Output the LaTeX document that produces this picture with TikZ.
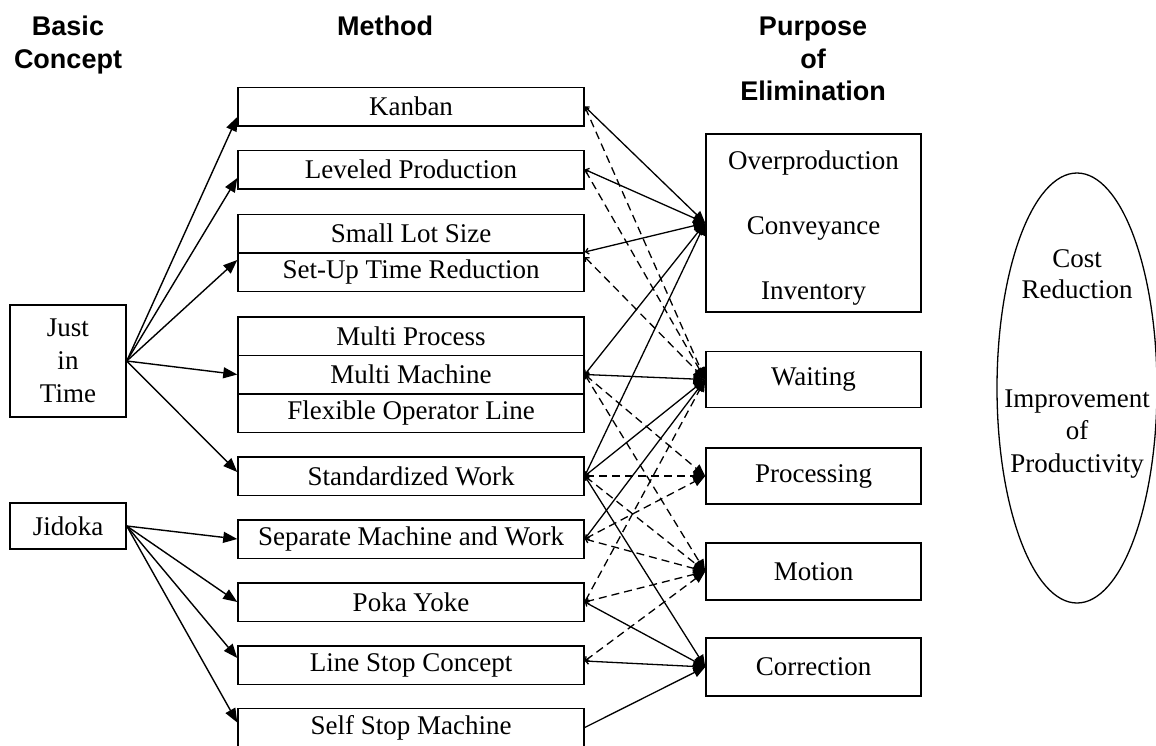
\documentclass[tikz,border=0pt]{standalone}
\usepackage{fontspec}
\setmainfont{Liberation Serif}
\newfontfamily\headfont{Liberation Sans}
\usetikzlibrary{arrows.meta,shapes.geometric}
\begin{document}
\begin{tikzpicture}[x=1pt,y=-1pt,
  box/.style={draw,line width=1.5pt,inner sep=0pt,font=\fontsize{27}{33}\selectfont},
  mbox/.style={box,minimum width=346pt,minimum height=38.5pt},
  pbox/.style={box,minimum width=215pt,minimum height=56pt},
  txt/.style={inner sep=0pt,anchor=base,font=\fontsize{27}{33}\selectfont},
  hdr/.style={inner sep=0pt,anchor=base,font=\headfont\bfseries\fontsize{27}{33}\selectfont},
  feed/.style={line width=1.4pt,-{Triangle[length=14pt,width=11pt]}},
  plain/.style={line width=1.3pt,-{Triangle[length=12pt,width=10pt]}},
  link/.style={plain,{Straight Barb[length=3pt,width=6pt]}-{Triangle[length=12pt,width=10pt]}},
  weak/.style={link,dash pattern=on 8pt off 5pt}]
\useasboundingbox (0,0) rectangle (1156,745);

% column headings
\node[hdr] (h1a) at (68,35) {Basic};
\node[hdr] (h1b) at (68,68) {Concept};
\node[hdr] (h2) at (385,35) {Method};
\node[hdr] (h3a) at (813,35) {Purpose};
\node[hdr] (h3b) at (813,68) {of};
\node[hdr] (h3c) at (813,100) {Elimination};

% basic concepts
\node[box,minimum width=116pt,minimum height=112pt,align=center] (jit) at (68,361) {Just\\in\\Time};
\node[box,minimum width=116pt,minimum height=46pt] (jidoka) at (68,526) {Jidoka};

% methods
\node[mbox] (kanban) at (411,106.5) {Kanban};
\node[mbox] (leveled) at (411,169.5) {Leveled Production};
\node[mbox] (smalllot) at (411,233.5) {Small Lot Size};
\node[mbox] (setup) at (411,272) {Set-Up Time Reduction};
\node[mbox] (mproc) at (411,336) {Multi Process};
\node[mbox] (mmach) at (411,374.5) {Multi Machine};
\node[mbox] (flex) at (411,413) {Flexible Operator Line};
\node[mbox] (stdwork) at (411,476) {Standardized Work};
\node[mbox] (sepwork) at (411,539) {Separate Machine and Work};
\node[mbox] (pokayoke) at (411,602) {Poka Yoke};
\node[mbox] (linestop) at (411,665) {Line Stop Concept};
\node[mbox] (selfstop) at (411,727.5) {Self Stop Machine};

% wastes to eliminate
\node[pbox,minimum height=178pt] (overp) at (813.5,223) {};
\node[txt] (w1) at (813.5,169) {Overproduction};
\node[txt] (w2) at (813.5,234) {Conveyance};
\node[txt] (w3) at (813.5,299) {Inventory};
\node[pbox] (waiting) at (813.5,379.5) {Waiting};
\node[pbox] (processing) at (813.5,476) {Processing};
\node[pbox,minimum height=57pt] (motion) at (813.5,571.5) {Motion};
\node[pbox,minimum height=58pt] (correction) at (813.5,667) {Correction};

% goals
\node[draw,ellipse,line width=1.3pt,minimum width=160pt,minimum height=430pt,inner sep=0pt] (goal) at (1077,388) {};
\node[txt] (g1) at (1077,267) {Cost};
\node[txt] (g2) at (1077,298) {Reduction};
\node[txt] (g3) at (1077,407) {Improvement};
\node[txt] (g4) at (1077,439) {of};
\node[txt] (g5) at (1077,472) {Productivity};

% concept -> method
\draw[feed] (jit.east) -- ([yshift=-10.5pt]kanban.west);
\draw[feed] (jit.east) -- ([yshift=-8.5pt]leveled.west);
\draw[feed] (jit.east) -- ([yshift=12pt]setup.west);
\draw[feed] (jit.east) -- (mmach.west);
\draw[feed] (jit.east) -- ([yshift=4pt]stdwork.west);
\draw[feed] (jidoka.east) -- (sepwork.west);
\draw[feed] (jidoka.east) -- (pokayoke.west);
\draw[feed] (jidoka.east) -- ([yshift=7pt]linestop.west);
\draw[feed] (jidoka.east) -- ([yshift=5pt]selfstop.west);

% method -> waste, direct effect
\draw[link] (kanban.east) -- (overp.west);
\draw[link] (leveled.east) -- (overp.west);
\draw[link] ([yshift=1.5pt]smalllot.south east) -- (overp.west);
\draw[link] (mmach.east) -- (overp.west);
\draw[link] (stdwork.east) -- (overp.west);
\draw[link] (mmach.east) -- (waiting.west);
\draw[link] (stdwork.east) -- (waiting.west);
\draw[link] (sepwork.east) -- (waiting.west);
\draw[link] (stdwork.east) -- (correction.west);
\draw[link] (pokayoke.east) -- (correction.west);
\draw[link] ([yshift=4pt]linestop.east) -- (correction.west);
\draw[plain] (selfstop.east) -- (correction.west);

% method -> waste, indirect effect
\draw[weak] (kanban.east) -- (waiting.west);
\draw[weak] (leveled.east) -- (waiting.west);
\draw[weak] ([yshift=-5pt]setup.north east) -- (waiting.west);
\draw[weak] (mmach.east) -- (processing.west);
\draw[weak] (mmach.east) -- (motion.west);
\draw[weak] (stdwork.east) -- (processing.west);
\draw[weak] (stdwork.east) -- (motion.west);
\draw[weak] (sepwork.east) -- (processing.west);
\draw[weak] (sepwork.east) -- (motion.west);
\draw[weak] (pokayoke.east) -- (waiting.west);
\draw[weak] (pokayoke.east) -- (motion.west);
\draw[weak] ([yshift=4pt]linestop.east) -- (motion.west);
\end{tikzpicture}
\end{document}
